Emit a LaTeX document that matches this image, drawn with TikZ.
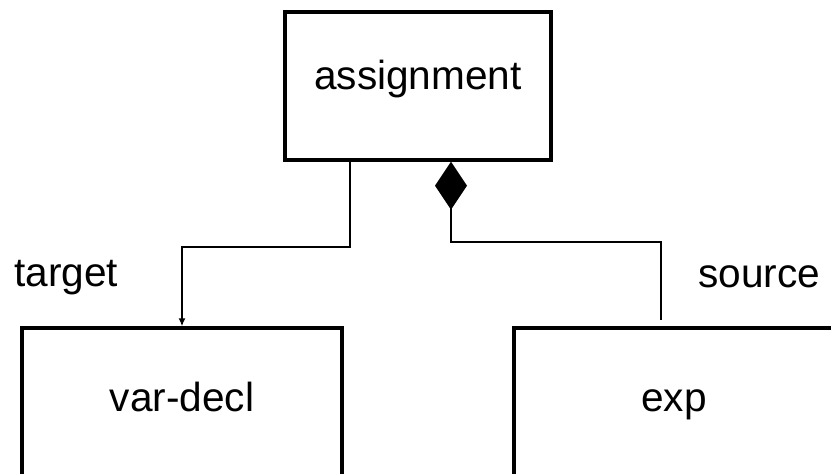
\documentclass[tikz,border=0pt]{standalone}
\usepackage{fontspec}
\setmainfont{Liberation Sans}
\usetikzlibrary{arrows.meta}
\begin{document}
\begin{tikzpicture}[x=0.5pt,y=-0.5pt,
  box/.style={draw=black, line width=1.65pt, fill=white, inner sep=0pt,
    text height=0.6em, text depth=0.26em,
    font=\fontsize{20.3pt}{24pt}\selectfont},
  conn/.style={draw=black, line width=1.4pt},
  lbl/.style={inner sep=0pt, anchor=base west, font=\fontsize{20.3pt}{24pt}\selectfont}]
\useasboundingbox (0,0) rectangle (831,474);
\clip (0,0) rectangle (831,474);
\node[box, minimum width=133pt, minimum height=74pt] (asg) at (418,86) {assignment};
\node[box, minimum width=160pt, minimum height=80pt] (vd) at (182,408) {var-decl};
\node[box, minimum width=160pt, minimum height=80pt] (ex) at (674,408) {exp};
\coordinate (l1) at (350,247);
\coordinate (l2) at (182,247);
\coordinate (r1) at (451,242);
\coordinate (r2) at (661,242);
\draw[conn, -{Latex[length=4pt,width=3.5pt]}] (asg.south -| l1) -- (l1) -- (l2) -- (vd.north -| l2);
\draw[conn, {Diamond[length=24pt,width=16pt]}-, shorten >=3pt] (asg.south -| r1) -- (r1) -- (r2) -- (ex.north -| r2);
\node[lbl] (tg) at (14,287) {target};
\node[lbl] (sr) at (698,288) {source};
\end{tikzpicture}
\end{document}
